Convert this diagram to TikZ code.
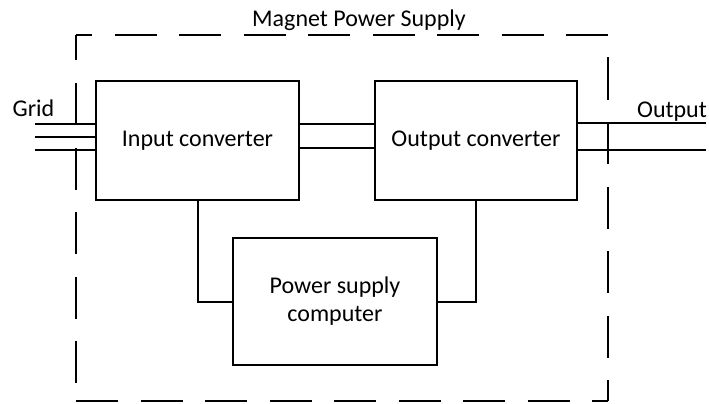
\documentclass[tikz,border=0pt]{standalone}
\usepackage{fontspec}
\setmainfont{Carlito}
\newlength\pxl
\setlength\pxl{0.75pt}
\begin{document}
\begin{tikzpicture}[x=0.75pt,y=-0.75pt,
  wire/.style={line width=1.5pt},
  box/.style={draw,line width=1.5pt,rectangle,inner sep=0pt,align=center,
    font=\fontsize{18}{21}\selectfont},
  lbl/.style={inner sep=0pt,anchor=base,font=\fontsize{18}{21}\selectfont},
  dashside/.style={line width=1.5pt,dash pattern=on 31.5pt off 16.875pt}]
\useasboundingbox (0,0) rectangle (709,403);
% dashed enclosure corners
\coordinate (tl) at (76,35);
\coordinate (tr) at (608,35);
\coordinate (br) at (608,401);
\coordinate (bl) at (76,401);
\draw[dashside,dash phase=19.5pt] (tl) -- (tr);
\draw[dashside,dash phase=31.5pt] (tr) -- (br);
\draw[dashside,dash phase=0pt] (bl) -- (br);
\draw[dashside,dash phase=34.875pt] (bl) -- (tl);
% blocks
\node[box,minimum width=203\pxl,minimum height=119\pxl] (in) at (197.5,140.5) {Input converter};
\node[box,minimum width=202\pxl,minimum height=119\pxl] (out) at (476,140.5) {Output converter};
\node[box,minimum width=204\pxl,minimum height=127\pxl] (psc) at (335,301.5) {Power supply\\computer};
% labels
\node[lbl] (title) at (359,27) {Magnet Power Supply};
\node[lbl] (grid) at (33.5,116) {Grid};
\node[lbl] (outlbl) at (672,117) {Output};
% grid lines
\coordinate (g1) at (35,124);
\coordinate (g2) at (35,137);
\coordinate (g3) at (35,150);
\draw[wire] (g1) -- (in.west |- g1);
\draw[wire] (g2) -- (in.west |- g2);
\draw[wire] (g3) -- (in.west |- g3);
% link lines
\coordinate (m1) at (337,124);
\coordinate (m2) at (337,148);
\draw[wire] (in.east |- m1) -- (out.west |- m1);
\draw[wire] (in.east |- m2) -- (out.west |- m2);
% output lines
\coordinate (o1) at (706,123);
\coordinate (o2) at (706,150);
\draw[wire] (out.east |- o1) -- (o1);
\draw[wire] (out.east |- o2) -- (o2);
% computer links
\draw[wire] (in.south) |- (psc.west);
\draw[wire] (out.south) |- (psc.east);
\end{tikzpicture}
\end{document}
